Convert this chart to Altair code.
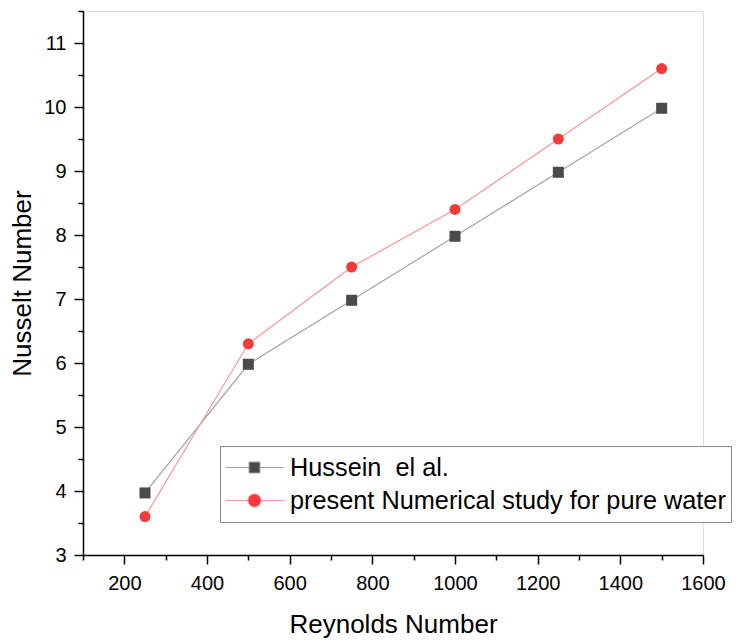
import altair as alt
import pandas as pd

# ---- data ----
reynolds = [250, 500, 750, 1000, 1250, 1500]
hussein = [3.97, 5.98, 6.98, 7.98, 8.98, 9.98]
present = [3.60, 6.30, 7.50, 8.40, 9.50, 10.60]
series_names = ["Hussein\u00a0 el al.", "present Numerical study for pure water"]

x_major = [200, 400, 600, 800, 1000, 1200, 1400, 1600]
x_minor = [100, 300, 500, 700, 900, 1100, 1300, 1500]
y_major = [3, 4, 5, 6, 7, 8, 9, 10, 11]
y_minor = [3.5, 4.5, 5.5, 6.5, 7.5, 8.5, 9.5, 10.5, 11.5]

marker_colors = ["#4a4a4a", "#f23b3b"]
line_colors = ["#a3a3a3", "#f79595"]

rows = []
for name, vals in zip(series_names, [hussein, present]):
    for r, v in zip(reynolds, vals):
        rows.append({"Re": r, "Nu": v, "series": name})
df = pd.DataFrame(rows)

FONT = "Liberation Sans"

xscale = alt.Scale(domain=[100, 1600], nice=False, zero=False)
yscale = alt.Scale(domain=[3, 11.5], nice=False, zero=False)

x_major_axis = alt.Axis(values=x_major, title="Reynolds Number", orient="bottom",
                        tickSize=9, tickWidth=1.5, domainWidth=1.5, domainColor="black",
                        tickColor="black", labelFontSize=20, labelPadding=9,
                        labelFont=FONT, labelColor="black", titleFont=FONT,
                        titleFontSize=26, titleFontWeight="normal", titlePadding=18,
                        titleColor="black", grid=False, labelFlush=False, format="d")
y_major_axis = alt.Axis(values=y_major, title="Nusselt Number", orient="left",
                        tickSize=9, tickWidth=1.5, domainWidth=1.5, domainColor="black",
                        tickColor="black", labelFontSize=20, labelPadding=8,
                        labelFont=FONT, labelColor="black", titleFont=FONT,
                        titleFontSize=26, titleFontWeight="normal", titlePadding=8,
                        titleColor="black", grid=False, labelFlush=False, format="d")
x_minor_axis = alt.Axis(values=x_minor, title=None, orient="bottom", labels=False,
                        domain=False, tickSize=5, tickWidth=1.5, tickColor="black",
                        grid=False)
y_minor_axis = alt.Axis(values=y_minor, title=None, orient="left", labels=False,
                        domain=False, tickSize=5, tickWidth=1.5, tickColor="black",
                        grid=False)

base = alt.Chart(df)

lines = base.mark_line(strokeWidth=1.2).encode(
    x=alt.X("Re:Q", scale=xscale, axis=x_major_axis),
    y=alt.Y("Nu:Q", scale=yscale, axis=y_major_axis),
    stroke=alt.Stroke("series:N", scale=alt.Scale(domain=series_names, range=line_colors),
                      legend=None),
    detail="series:N",
)

points = base.mark_point(filled=True, size=121, opacity=1).encode(
    x=alt.X("Re:Q", scale=xscale, axis=x_minor_axis),
    y=alt.Y("Nu:Q", scale=yscale, axis=y_minor_axis),
    fill=alt.Fill("series:N", scale=alt.Scale(domain=series_names, range=marker_colors),
                  legend=None),
    shape=alt.Shape("series:N", scale=alt.Scale(domain=series_names, range=["square", "circle"]),
                    legend=None),
)

# legend symbols: short line with a marker in the middle
sq = "M-1,0H-0.19M0.19,0H1M-0.19,-0.19H0.19V0.19H-0.19Z"
ci = ("M-1,0H-0.224M0.224,0H1M-0.224,0A0.224,0.224,0,1,0,0.224,0"
      "A0.224,0.224,0,1,0,-0.224,0Z")

leg = alt.Legend(title=None, orient="none", legendX=137, legendY=435,
                 labelFont=FONT, labelFontSize=25.3, labelColor="black",
                 labelOffset=6, symbolSize=3364, symbolStrokeWidth=1,
                 rowPadding=0, padding=5, clipHeight=33,
                 strokeColor="#8c8c8c", fillColor="white", labelLimit=0)

legend_layer = base.mark_point(filled=True, size=121, strokeWidth=1, opacity=1).encode(
    fill=alt.Fill("series:N", scale=alt.Scale(domain=series_names, range=marker_colors),
                  legend=leg),
    stroke=alt.Stroke("series:N", scale=alt.Scale(domain=series_names, range=line_colors),
                      legend=leg),
    shape=alt.Shape("series:N", scale=alt.Scale(domain=series_names, range=[sq, ci]),
                    legend=leg),
).transform_filter("false")

chart = alt.layer(lines, points, legend_layer).resolve_scale(
    fill="independent", stroke="independent", shape="independent"
).resolve_axis(
    x="independent", y="independent"
).properties(
    width=620, height=544,
    padding={"left": 83, "top": 11, "right": 35, "bottom": 87},
    autosize=alt.AutoSizeParams(type="none"),
).configure_view(strokeWidth=0).configure(background="white")

chart.save("out.html", embed_options={"renderer": "svg", "actions": False})
